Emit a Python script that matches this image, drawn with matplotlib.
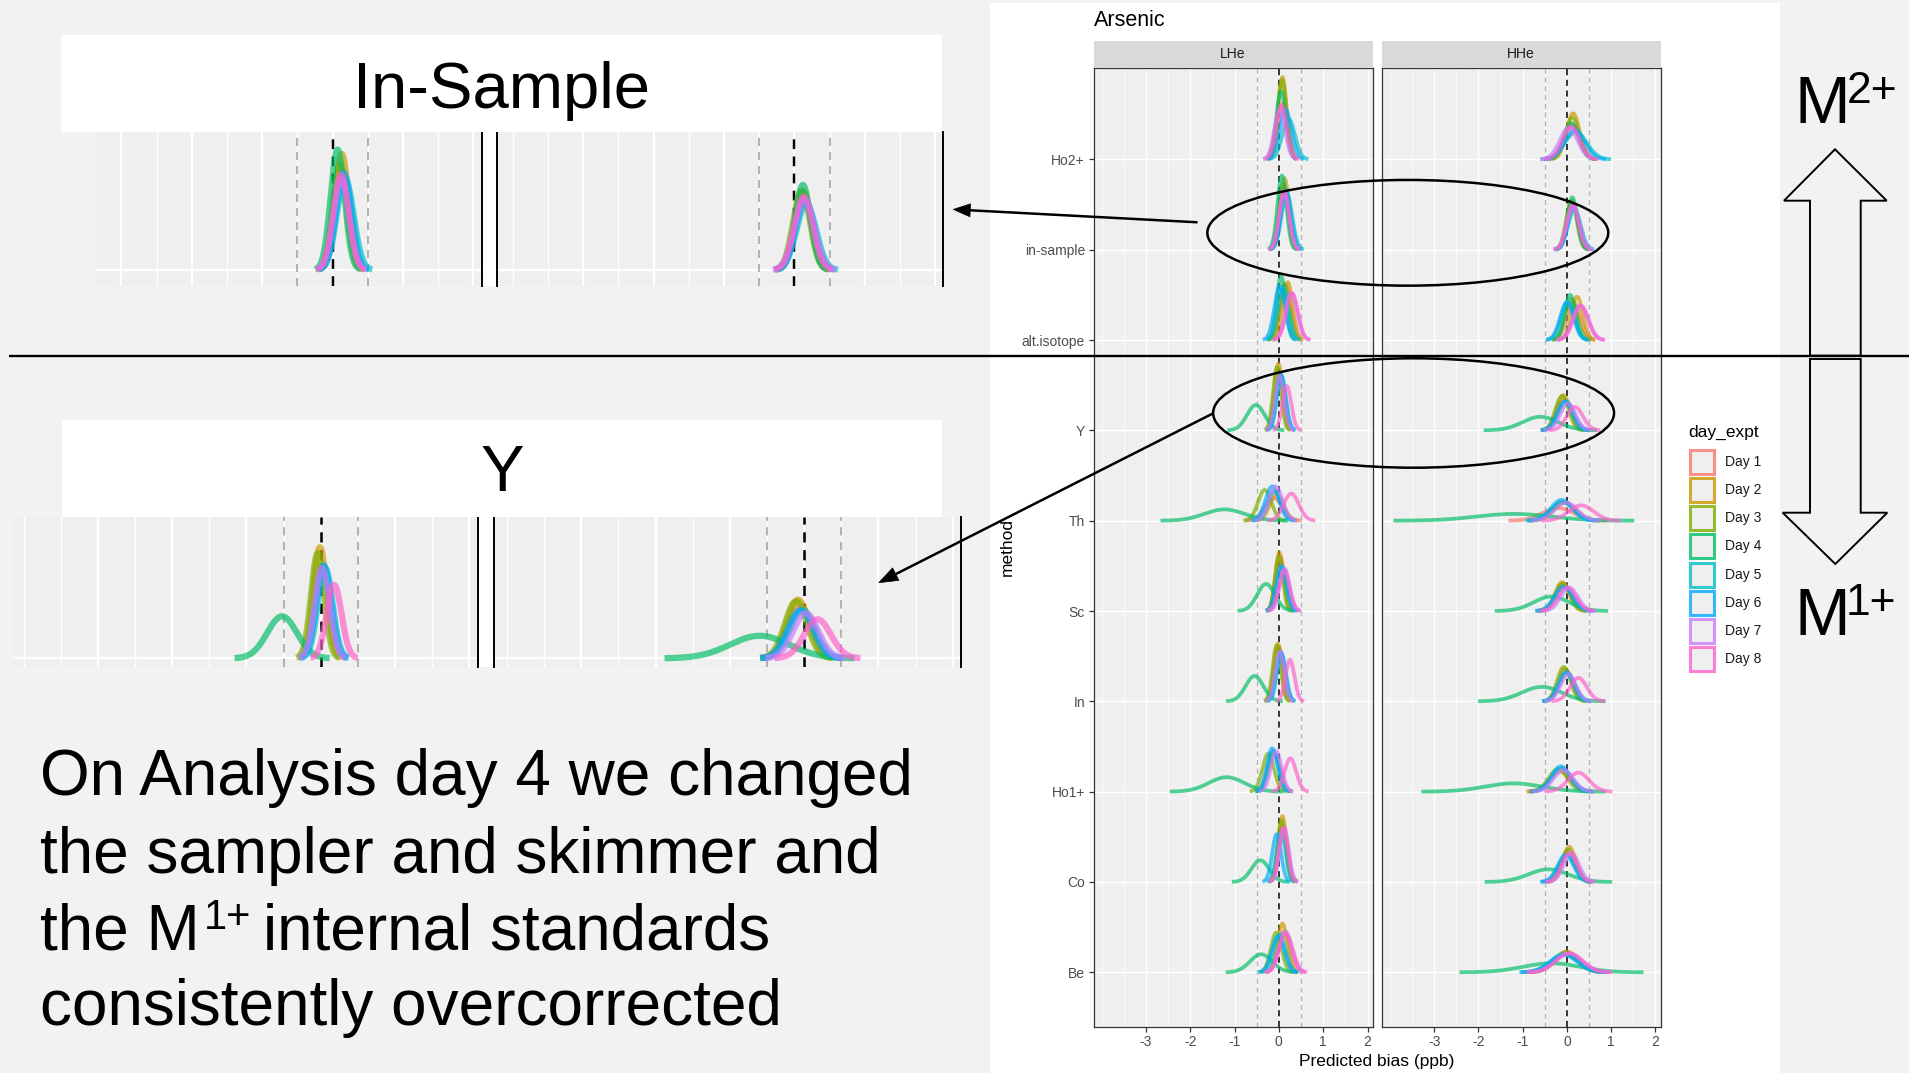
import numpy as np
import matplotlib
matplotlib.use("Agg")
import matplotlib.pyplot as plt
from matplotlib.patches import Rectangle, Ellipse, Polygon
from matplotlib.colors import to_rgba

plt.rcParams['font.family'] = ['Liberation Sans', 'DejaVu Sans']

# ---------------- data ----------------
methods = ["Ho2+", "in-sample", "alt.isotope", "Y", "Th", "Sc", "In", "Ho1+", "Co", "Be"]
days = ["Day 1", "Day 2", "Day 3", "Day 4", "Day 5", "Day 6", "Day 7", "Day 8"]
day_colors = ["#F8766D", "#CD9600", "#7CAE00", "#00BE67", "#00BFC4", "#00A9FF", "#C77CFF", "#FF61CC"]
facets = ["LHe", "HHe"]
x_ticks = [-3, -2, -1, 0, 1, 2]
x_tick_labels = ["-3", "-2", "-1", "0", "1", "2"]
ref_lines = [-0.5, 0.0, 0.5]

# ridge peak position (ppb), spread (ppb) and peak height (rows) per method x day
lhe_peak = [
    [0.10, 0.08, 0.07, 0.05, 0.22, 0.15, 0.02, 0.06],
    [0.12, 0.13, 0.10, 0.07, 0.18, 0.16, 0.12, 0.12],
    [0.15, 0.20, 0.12, 0.05, 0.10, 0.02, 0.28, 0.30],
    [0.02, -0.01, -0.04, -0.52, 0.06, 0.04, 0.02, 0.18],
    [-0.12, -0.05, -0.32, -1.23, -0.10, -0.15, -0.07, 0.28],
    [0.03, 0.01, 0.00, -0.29, 0.08, 0.05, 0.13, 0.12],
    [0.00, -0.02, -0.05, -0.55, 0.06, 0.04, 0.02, 0.25],
    [-0.10, -0.12, -0.24, -1.18, -0.12, -0.15, -0.06, 0.26],
    [0.10, 0.08, 0.06, -0.42, 0.05, -0.05, 0.12, 0.10],
    [0.12, 0.08, -0.06, -0.40, 0.02, -0.02, 0.15, 0.16],
]
lhe_sd = [
    [0.11, 0.10, 0.10, 0.11, 0.14, 0.13, 0.12, 0.12],
    [0.10, 0.10, 0.10, 0.10, 0.12, 0.11, 0.11, 0.11],
    [0.12, 0.11, 0.11, 0.10, 0.12, 0.12, 0.13, 0.13],
    [0.10, 0.09, 0.09, 0.20, 0.10, 0.10, 0.10, 0.10],
    [0.20, 0.15, 0.15, 0.45, 0.15, 0.15, 0.15, 0.17],
    [0.10, 0.09, 0.09, 0.20, 0.11, 0.11, 0.11, 0.12],
    [0.10, 0.09, 0.09, 0.20, 0.10, 0.10, 0.10, 0.10],
    [0.13, 0.13, 0.13, 0.40, 0.12, 0.12, 0.12, 0.13],
    [0.10, 0.09, 0.09, 0.20, 0.10, 0.10, 0.10, 0.10],
    [0.13, 0.11, 0.12, 0.25, 0.13, 0.14, 0.14, 0.15],
]
lhe_height = [
    [0.62, 0.91, 0.88, 0.75, 0.45, 0.55, 0.55, 0.60],
    [0.70, 0.79, 0.72, 0.82, 0.62, 0.66, 0.62, 0.65],
    [0.60, 0.64, 0.62, 0.71, 0.58, 0.60, 0.52, 0.52],
    [0.62, 0.74, 0.70, 0.28, 0.60, 0.62, 0.60, 0.49],
    [0.25, 0.30, 0.34, 0.125, 0.33, 0.38, 0.38, 0.30],
    [0.60, 0.65, 0.60, 0.30, 0.48, 0.50, 0.47, 0.45],
    [0.60, 0.64, 0.62, 0.28, 0.52, 0.55, 0.55, 0.46],
    [0.42, 0.44, 0.42, 0.16, 0.45, 0.48, 0.45, 0.37],
    [0.62, 0.73, 0.68, 0.24, 0.55, 0.53, 0.60, 0.60],
    [0.45, 0.54, 0.44, 0.20, 0.42, 0.40, 0.45, 0.43],
]
hhe_peak = [
    [0.12, 0.14, 0.12, 0.10, 0.20, 0.18, 0.04, 0.10],
    [0.13, 0.12, 0.10, 0.12, 0.17, 0.15, 0.14, 0.13],
    [0.15, 0.23, 0.10, 0.07, 0.02, 0.00, 0.30, 0.32],
    [-0.05, -0.08, -0.11, -0.60, -0.02, -0.05, 0.02, 0.18],
    [-0.20, -0.05, -0.08, -1.20, -0.10, -0.12, -0.02, 0.32],
    [-0.08, -0.11, -0.10, -0.35, -0.05, -0.08, 0.05, 0.00],
    [0.00, -0.04, -0.07, -0.57, 0.00, -0.02, 0.03, 0.26],
    [-0.15, -0.15, -0.20, -1.21, -0.12, -0.14, -0.08, 0.26],
    [0.02, 0.05, 0.03, -0.42, 0.00, -0.03, 0.10, 0.05],
    [-0.02, 0.00, -0.03, -0.35, -0.05, -0.08, 0.05, 0.05],
]
hhe_sd = [
    [0.18, 0.15, 0.16, 0.17, 0.25, 0.22, 0.20, 0.19],
    [0.12, 0.12, 0.12, 0.11, 0.14, 0.13, 0.14, 0.13],
    [0.15, 0.13, 0.14, 0.12, 0.15, 0.15, 0.17, 0.17],
    [0.17, 0.15, 0.15, 0.40, 0.17, 0.17, 0.17, 0.18],
    [0.35, 0.25, 0.24, 0.85, 0.26, 0.24, 0.25, 0.28],
    [0.17, 0.16, 0.17, 0.40, 0.20, 0.20, 0.19, 0.20],
    [0.17, 0.15, 0.15, 0.45, 0.17, 0.17, 0.17, 0.19],
    [0.24, 0.22, 0.21, 0.65, 0.22, 0.21, 0.22, 0.24],
    [0.17, 0.15, 0.15, 0.45, 0.18, 0.18, 0.17, 0.17],
    [0.30, 0.26, 0.27, 0.65, 0.32, 0.30, 0.30, 0.30],
]
hhe_height = [
    [0.38, 0.51, 0.46, 0.40, 0.30, 0.33, 0.35, 0.36],
    [0.52, 0.54, 0.54, 0.58, 0.45, 0.48, 0.48, 0.50],
    [0.42, 0.48, 0.45, 0.50, 0.42, 0.42, 0.38, 0.38],
    [0.34, 0.39, 0.38, 0.15, 0.32, 0.32, 0.30, 0.26],
    [0.14, 0.20, 0.21, 0.075, 0.20, 0.23, 0.20, 0.17],
    [0.30, 0.32, 0.30, 0.16, 0.26, 0.27, 0.26, 0.26],
    [0.32, 0.36, 0.38, 0.16, 0.32, 0.32, 0.30, 0.26],
    [0.22, 0.25, 0.25, 0.092, 0.26, 0.28, 0.24, 0.21],
    [0.33, 0.39, 0.36, 0.14, 0.30, 0.30, 0.32, 0.32],
    [0.20, 0.23, 0.22, 0.10, 0.19, 0.20, 0.21, 0.21],
]
facet_data = {"LHe": (lhe_peak, lhe_sd, lhe_height), "HHe": (hhe_peak, hhe_sd, hhe_height)}

text_lines = ["On Analysis day 4 we changed", "the sampler and skimmer and",
              None, "consistently overcorrected"]

# ---------------- figure ----------------
W, H = 1909, 1073
fig = plt.figure(figsize=(W / 100, H / 100), dpi=100)
SLIDE = "#F2F2F2"
PANEL = "#EFEFEF"
fig.patch.set_facecolor(SLIDE)


def px_axes(x0, y0, x1, y1, z=1):
    ax = fig.add_axes([x0 / W, 1 - y1 / H, (x1 - x0) / W, (y1 - y0) / H])
    ax.set_zorder(z)
    return ax


def full_pixel_axes(z):
    ax = fig.add_axes([0, 0, 1, 1])
    ax.set_xlim(0, W)
    ax.set_ylim(H, 0)
    ax.axis("off")
    ax.set_zorder(z)
    ax.patch.set_alpha(0)
    return ax


bg = full_pixel_axes(0)
bg.add_patch(Rectangle((990, 3), 790, H - 3, facecolor="white", edgecolor="none"))
# white gaps between the two facets in the enlarged crops
bg.add_patch(Rectangle((481.9, 131.7), 497.2 - 481.9, 285.7 - 131.7, facecolor="white", edgecolor="none"))
bg.add_patch(Rectangle((477.9, 516.7), 493.7 - 477.9, 666.7 - 516.7, facecolor="white", edgecolor="none"))

n_methods = len(methods)


def draw_panel(ax, facet, xlim, ylim, k=1.0):
    peak, sd, height = facet_data[facet]
    ax.set_facecolor(PANEL)
    ax.set_xlim(*xlim)
    ax.set_ylim(*ylim)
    for v in np.arange(-4, 2.01, 0.5):
        major = abs(v - round(v)) < 1e-9 and int(round(v)) in x_ticks
        ax.axvline(v, color="white", lw=(1.0 if major else 0.55) * k, zorder=1)
    for i in range(n_methods):
        ax.axhline(n_methods - i, color="white", lw=1.0 * k, zorder=1)
    for v in ref_lines:
        if v == 0:
            ax.axvline(v, color="black", lw=1.1 * k, ls=(0, (4, 3)), zorder=2)
        else:
            ax.axvline(v, color="#B3B3B3", lw=0.9 * k, ls=(0, (4, 3)), zorder=2)
    for i in range(n_methods):
        base = n_methods - i
        for d in range(len(days)):
            mu, s, h = peak[i][d], sd[i][d], height[i][d]
            x = np.linspace(mu - 3.2 * s, mu + 3.2 * s, 240)
            y = base + h * np.exp(-0.5 * ((x - mu) / s) ** 2)
            ax.plot(x, y, color=day_colors[d], lw=2.7 * k, alpha=0.68,
                    solid_capstyle="butt", zorder=3 + i * 0.01)


# ---------------- main faceted chart ----------------
XLIM = (-4.18, 2.115)
YLIM = (0.398, 11.008)
panel_px = {"LHe": (1093.6, 1372.6), "HHe": (1382.0, 1660.5)}
for j, facet in enumerate(facets):
    x0, x1 = panel_px[facet]
    ax = px_axes(x0, 68.3, x1, 1026.7, z=2)
    draw_panel(ax, facet, XLIM, YLIM)
    for sp in ax.spines.values():
        sp.set_color("#333333")
        sp.set_linewidth(0.9)
        sp.set_zorder(5)
    ax.set_xticks(x_ticks)
    ax.set_xticklabels(x_tick_labels)
    ax.tick_params(axis="both", length=3.3, width=0.9, color="#333333",
                   labelcolor="#4D4D4D", labelsize=10, pad=2.9)
    if j == 0:
        ax.set_yticks([n_methods - i for i in range(n_methods)])
        ax.set_yticklabels(methods)
    else:
        ax.set_yticks([])
    st = px_axes(x0, 40.7, x1, 68.3, z=2)
    st.set_facecolor("#D9D9D9")
    st.set_xticks([])
    st.set_yticks([])
    for sp in st.spines.values():
        sp.set_visible(False)
    st.text(0.5, 0.5, facet, ha="center", va="center", fontsize=10, color="#1A1A1A",
            transform=st.transAxes)

fig.text(1093.6 / W, 1 - 20 / H, "Arsenic", fontsize=15.5, ha="left", va="center", color="black")
fig.text(1377.0 / W, 1 - 1061.7 / H, "Predicted bias (ppb)", fontsize=12.5, ha="center",
         va="center", color="black")
fig.text(1007.0 / W, 1 - 547.5 / H, "method", fontsize=12.5, ha="center", va="center",
         rotation=90, color="black")

# ---------------- enlarged crops ----------------
def crop(left_px, right_px, y_top, y_bot, xlim_l, xlim_r, ylim, k):
    a = px_axes(left_px[0], y_top, left_px[1], y_bot, z=3)
    draw_panel(a, "LHe", xlim_l, ylim, k)
    b = px_axes(right_px[0], y_top, right_px[1], y_bot, z=3)
    draw_panel(b, "HHe", xlim_r, ylim, k)
    for axx in (a, b):
        axx.set_xticks([])
        axx.set_yticks([])
        for sp in axx.spines.values():
            sp.set_visible(False)
        axx.spines["right"].set_visible(True)
        axx.spines["right"].set_color("black")
        axx.spines["right"].set_linewidth(1.4)
    b.spines["left"].set_visible(True)
    b.spines["left"].set_color("black")
    b.spines["left"].set_linewidth(1.4)


row_in = n_methods - methods.index("in-sample")
row_y = n_methods - methods.index("Y")
crop((94.9, 481.9), (497.2, 943.0), 131.7, 285.7, (-3.375, 2.12), (-4.22, 2.11),
     (row_in - 15.7 / 147, row_in + 138.3 / 147), 1.6)
crop((13.9, 477.9), (493.7, 960.9), 516.7, 666.7, (-4.13, 2.116), (-4.18, 2.11),
     (row_y - 8.4 / 150, row_y + 141.6 / 150), 1.67)

# ---------------- overlay (slide annotations) ----------------
ov = full_pixel_axes(20)

# legend
ov.text(1688.3, 432.3, "day_expt", fontsize=12.5, ha="left", va="center", color="black")
for d, (lab, col) in enumerate(zip(days, day_colors)):
    cy = 461.7 + 28.2 * d
    ov.add_patch(Rectangle((1689.5, cy - 12.0), 24.5, 24.0, facecolor=PANEL,
                           edgecolor=to_rgba(col, 0.8), lw=2.2))
    ov.text(1725, cy, lab, fontsize=10, ha="left", va="center", color="#1A1A1A")

# title boxes
ov.add_patch(Rectangle((61.2, 35), 941.8 - 61.2, 131.7 - 35, facecolor="white", edgecolor="none"))
ov.text(501.5, 108.3, "In-Sample", fontsize=47, ha="center", va="baseline", color="black")
ov.add_patch(Rectangle((61.9, 420), 941.9 - 61.9, 516.7 - 420, facecolor="white", edgecolor="none"))
ov.text(501.9, 490.7, "Y", fontsize=47, ha="center", va="baseline", color="black")

# divider line
ov.plot([8.5, 1909], [356, 356], color="black", lw=1.7, solid_capstyle="butt")

# ellipses
ov.add_patch(Ellipse((1407.8, 232.8), 400.9, 105.7, fill=False, edgecolor="black", lw=1.8))
ov.add_patch(Ellipse((1413.6, 413.0), 400.9, 109.4, fill=False, edgecolor="black", lw=1.8))


def arrow(x0, y0, x1, y1, L=17, hw=6.5, lw=1.8):
    dx, dy = x1 - x0, y1 - y0
    n = np.hypot(dx, dy)
    ux, uy = dx / n, dy / n
    bx, by = x1 - ux * L, y1 - uy * L
    px, py = -uy, ux
    ov.plot([x0, bx], [y0, by], color="black", lw=lw, solid_capstyle="butt")
    ov.add_patch(Polygon([[x1, y1], [bx + px * hw, by + py * hw], [bx - px * hw, by - py * hw]],
                         closed=True, facecolor="black", edgecolor="black", lw=0.5))


arrow(1197.6, 222.3, 953.3, 209.4)
arrow(1213.2, 413.3, 878.8, 582.7, L=19, hw=7)

# block arrows
up = [(1835, 149.3), (1886.7, 200.7), (1860.7, 200.7), (1860.7, 355.7),
      (1810, 355.7), (1810, 200.7), (1784, 200.7)]
down = [(1810, 359), (1860.7, 359), (1860.7, 512.7), (1887.3, 512.7),
        (1835.3, 564), (1782.7, 512.7), (1810, 512.7)]
for poly in (up, down):
    ov.add_patch(Polygon(poly, closed=True, fill=False, edgecolor="black", lw=1.4, joinstyle="miter"))

ov.text(1794.4, 123.3, "M", fontsize=48, ha="left", va="baseline", color="black")
ov.text(1847.0, 103.3, "2+", fontsize=32, ha="left", va="baseline", color="black")
ov.text(1795.0, 635.0, "M", fontsize=48, ha="left", va="baseline", color="black")
ov.text(1845.2, 615.0, "1+", fontsize=32, ha="left", va="baseline", color="black")

# body text
baselines = [795.0, 872.7, 949.3, 1025.0]
for s, yb in zip(text_lines, baselines):
    if s is not None:
        ov.text(40, yb, s, fontsize=46, ha="left", va="baseline", color="black")
ov.text(40, baselines[2], "the M", fontsize=46, ha="left", va="baseline", color="black")
ov.text(203.5, baselines[2] - 20, "1+", fontsize=30, ha="left", va="baseline", color="black")
ov.text(263.0, baselines[2], "internal standards", fontsize=46, ha="left", va="baseline", color="black")

fig.savefig("out.png", dpi=100, facecolor=fig.get_facecolor())
